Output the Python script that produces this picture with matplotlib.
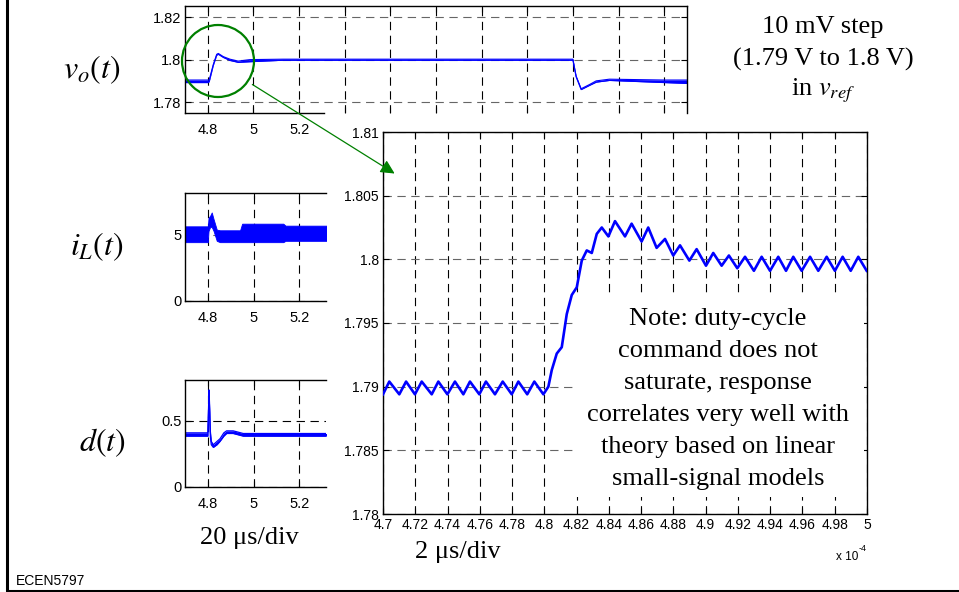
import matplotlib.pyplot as plt
from matplotlib.patches import Ellipse, Rectangle, FancyArrowPatch
from matplotlib.lines import Line2D

plt.rcParams['font.family'] = ['Liberation Sans', 'DejaVu Sans']
plt.rcParams['lines.scale_dashes'] = False

# zoomed output voltage (time in units of 1e-4 s, volts)
main_t = [4.7000, 4.7039, 4.7101, 4.7143, 4.7198, 4.7240, 4.7302, 4.7343, 4.7399, 4.7446,
          4.7498, 4.7539, 4.7597, 4.7638, 4.7694, 4.7742, 4.7798, 4.7839, 4.7894, 4.7938,
          4.7994, 4.8025, 4.8046, 4.8077, 4.8108, 4.8139, 4.8170, 4.8201, 4.8232, 4.8263,
          4.8294, 4.8325, 4.8356, 4.8397, 4.8438, 4.8500, 4.8541, 4.8603, 4.8644, 4.8696,
          4.8748, 4.8799, 4.8841, 4.8899, 4.8944, 4.9002, 4.9047, 4.9099, 4.9144, 4.9196,
          4.9244, 4.9299, 4.9347, 4.9399, 4.9450, 4.9498, 4.9543, 4.9595, 4.9647, 4.9698,
          4.9750, 4.9801, 4.9849, 4.9899, 4.9946, 4.9998]
main_v = [1.7894, 1.7904, 1.7894, 1.7904, 1.7894, 1.7904, 1.7894, 1.7904, 1.7894, 1.7904,
          1.7894, 1.7904, 1.7894, 1.7904, 1.7894, 1.7904, 1.7894, 1.7904, 1.7894, 1.7904,
          1.7894, 1.7900, 1.7913, 1.7926, 1.7931, 1.7957, 1.7972, 1.7978, 1.7999, 1.8007,
          1.8005, 1.8020, 1.8025, 1.8018, 1.8030, 1.8018, 1.8028, 1.8014, 1.8025, 1.8009,
          1.8016, 1.8003, 1.8011, 1.7999, 1.8008, 1.7995, 1.8005, 1.7995, 1.8003, 1.7993,
          1.8002, 1.7991, 1.8002, 1.7991, 1.8002, 1.7991, 1.8002, 1.7991, 1.8002, 1.7991,
          1.8002, 1.7991, 1.8002, 1.7991, 1.8002, 1.7991]
main_xticks = [4.70, 4.72, 4.74, 4.76, 4.78, 4.80, 4.82, 4.84, 4.86, 4.88,
               4.90, 4.92, 4.94, 4.96, 4.98, 5.00]
main_yticks = [1.78, 1.785, 1.79, 1.795, 1.80, 1.805, 1.81]

# 20 us/div traces: upper / lower envelope of the switching ripple
vo_t = [4.700, 4.800, 4.806, 4.824, 4.839, 4.846, 4.868, 4.897, 4.933, 4.985,
        5.130, 6.400, 6.414, 6.436, 6.473, 6.502, 6.560, 6.800, 6.900]
vo_hi = [1.7905, 1.7905, 1.7905, 1.7978, 1.8026, 1.8030, 1.8015, 1.8003, 1.7994, 1.8001,
         1.8003, 1.8003, 1.7924, 1.7864, 1.7884, 1.7901, 1.7909, 1.7905, 1.7905]
vo_lo = [1.7893, 1.7893, 1.7897, 1.7974, 1.8022, 1.8026, 1.8011, 1.7997, 1.7988, 1.7991,
         1.7998, 1.7998, 1.7920, 1.7860, 1.7880, 1.7895, 1.7903, 1.7893, 1.7889]

iL_t = [4.700, 4.800, 4.803, 4.810, 4.817, 4.825, 4.839, 4.853, 4.941, 4.950,
        5.130, 5.140, 5.320]
iL_hi = [5.65, 5.65, 6.30, 6.45, 6.70, 6.20, 5.40, 5.35, 5.35, 5.85, 5.85, 5.70, 5.70]
iL_lo = [4.45, 4.45, 5.30, 5.60, 5.60, 5.30, 4.55, 4.45, 4.45, 4.45, 4.45, 4.55, 4.55]

d_t = [4.700, 4.800, 4.803, 4.805, 4.808, 4.811, 4.815, 4.824, 4.840, 4.853,
       4.870, 4.882, 4.911, 4.955, 5.320]
d_hi = [0.410, 0.410, 0.600, 0.735, 0.600, 0.420, 0.345, 0.320, 0.345, 0.365,
        0.410, 0.425, 0.425, 0.405, 0.405]
d_lo = [0.385, 0.385, 0.560, 0.700, 0.520, 0.380, 0.320, 0.300, 0.320, 0.345,
        0.385, 0.405, 0.405, 0.385, 0.385]

small_xticks = [4.8, 5.0, 5.2]
small_xlabels = ['4.8', '5', '5.2']
vo_xticks = [4.8, 5.0, 5.2, 5.4, 5.6, 5.8, 6.0, 6.2, 6.4, 6.6, 6.8]

note_lines = ['Note: duty-cycle', 'command does not', 'saturate, response',
              'correlates very well with', 'theory based on linear',
              'small-signal models']

BLUE = '#0000ff'
GREEN = '#008000'
SERIF = ['Liberation Serif', 'DejaVu Serif']
DASH = (0, (6, 4))
W, H = 959, 592


def box(x0, y0, x1, y1):
    """Pixel box (origin top-left) to a figure-fraction rect."""
    return [x0 / W, 1 - y1 / H, (x1 - x0) / W, (y1 - y0) / H]


def px(x, y):
    return x / W, 1 - y / H


def style(ax, size, xpad, ypad, right=True):
    ax.set_axisbelow(True)
    ax.grid(True, axis='x', color='k', lw=0.8, linestyle=DASH)
    ax.grid(True, axis='y', color='0.4', lw=0.8, linestyle=DASH)
    ax.tick_params(direction='in', length=4, width=0.8, labelsize=size,
                   top=True, right=right)
    ax.tick_params(axis='x', pad=xpad)
    ax.tick_params(axis='y', pad=ypad)
    for s in ax.spines.values():
        s.set_linewidth(1.0)
    if not right:
        ax.spines['right'].set_visible(False)


fig = plt.figure(figsize=(9.59, 5.92), dpi=100)

# ---- top: v_o(t), 20 us/div
ax_vo = fig.add_axes(box(185, 6, 687, 113))
ax_vo.fill_between(vo_t, vo_lo, vo_hi, color=BLUE, lw=0)
ax_vo.plot(vo_t, vo_hi, color=BLUE, lw=0.8)
ax_vo.plot(vo_t, vo_lo, color=BLUE, lw=0.8)
ax_vo.set_xlim(4.7, 6.9)
ax_vo.set_ylim(1.775, 1.8253)
ax_vo.set_xticks(vo_xticks)
ax_vo.set_xticklabels(small_xlabels + [''] * (len(vo_xticks) - 3))
ax_vo.set_yticks([1.78, 1.80, 1.82])
ax_vo.set_yticklabels(['1.78', '1.8', '1.82'])
style(ax_vo, 10.5, 7, 2.5)
ax_vo.spines['bottom'].set_bounds(4.7, 5.31)

# ---- i_L(t)
ax_il = fig.add_axes(box(185, 193, 326, 301))
ax_il.fill_between(iL_t, iL_lo, iL_hi, color=BLUE, lw=0.6)
ax_il.set_xlim(4.7, 5.317)
ax_il.set_ylim(0, 8.17)
ax_il.set_xticks(small_xticks)
ax_il.set_xticklabels(small_xlabels)
ax_il.set_yticks([0, 5])
ax_il.set_yticklabels(['0', '5'])
style(ax_il, 10.5, 7, 2.5, right=False)

# ---- d(t)
ax_d = fig.add_axes(box(185, 380, 326, 487))
ax_d.fill_between(d_t, d_lo, d_hi, color=BLUE, lw=0)
ax_d.plot(d_t, d_hi, color=BLUE, lw=0.9)
ax_d.plot(d_t, d_lo, color=BLUE, lw=0.9)
ax_d.set_xlim(4.7, 5.317)
ax_d.set_ylim(0, 0.81)
ax_d.set_xticks(small_xticks)
ax_d.set_xticklabels(small_xlabels)
ax_d.set_yticks([0, 0.5])
ax_d.set_yticklabels(['0', '0.5'])
style(ax_d, 10.5, 7, 2.5, right=False)
ax_d.grid(True, axis='y', color='k', lw=0.8, linestyle=DASH)

# ---- main zoomed plot, 2 us/div
ax = fig.add_axes(box(383, 132, 867, 514))
ax.plot(main_t, main_v, color=BLUE, lw=1.9, zorder=3, solid_joinstyle='round')
ax.set_xlim(4.7, 5.0)
ax.set_ylim(1.78, 1.81)
ax.set_xticks(main_xticks)
ax.set_xticklabels([f'{v:g}' for v in main_xticks])
ax.set_yticks(main_yticks)
ax.set_yticklabels([f'{v:g}' for v in main_yticks])
style(ax, 10, 3.2, 3)
ax.add_patch(Rectangle((0.3946, 0.0445), 0.5992, 0.5235, transform=ax.transAxes,
                       facecolor='white', edgecolor='none', zorder=2))

for i, line in enumerate(note_lines):
    fig.text(*px(718, 325 + 32 * i), line, ha='center', va='baseline',
             family=SERIF, fontsize=19)

# right-top caption
fig.text(*px(823, 33), '10 mV step', ha='center', va='baseline', family=SERIF, fontsize=19)
fig.text(*px(823, 66), '(1.79 V to 1.8 V)', ha='center', va='baseline', family=SERIF,
         fontsize=19)
fig.text(*px(823, 95), r'in $v_{ref}$', ha='center', va='baseline', family=SERIF,
         fontsize=19, math_fontfamily='stix')

# signal labels
for (x, y), lab in [((92, 70), r'$v_o(t)$'), ((97, 247), r'$i_L(t)$'), ((102, 443), r'$d(t)$')]:
    fig.text(*px(x, y), lab, ha='center', va='center', fontsize=23, math_fontfamily='stix')

fig.text(*px(249, 544), '20 \u03bcs/div', ha='center', va='baseline', family=SERIF, fontsize=19)
fig.text(*px(458, 558), '2 \u03bcs/div', ha='center', va='baseline', family=SERIF, fontsize=19)
fig.text(*px(858, 560), 'x 10', ha='right', va='baseline', fontsize=8.5)
fig.text(*px(859, 551), '-4', ha='left', va='baseline', fontsize=6.5)
fig.text(*px(16, 585), 'ECEN5797', ha='left', va='baseline', fontsize=10)

# green circle + arrow pointing at the zoomed view
cx, cy = px(218, 61)
fig.add_artist(Ellipse((cx, cy), 72 / W, 72 / H, transform=fig.transFigure,
                       fill=False, edgecolor=GREEN, lw=1.6))
fig.add_artist(FancyArrowPatch(px(250, 83), px(397, 175), transform=fig.transFigure,
                               arrowstyle='-|>,head_length=0.6,head_width=0.3',
                               mutation_scale=14, color=GREEN, lw=0.9))

# slide border (left and bottom)
fig.add_artist(Line2D([7 / W, 7 / W, 1], [1, 1 / H, 1 / H], transform=fig.transFigure,
                      color='k', lw=2.2))

fig.savefig('out.png', dpi=100)
